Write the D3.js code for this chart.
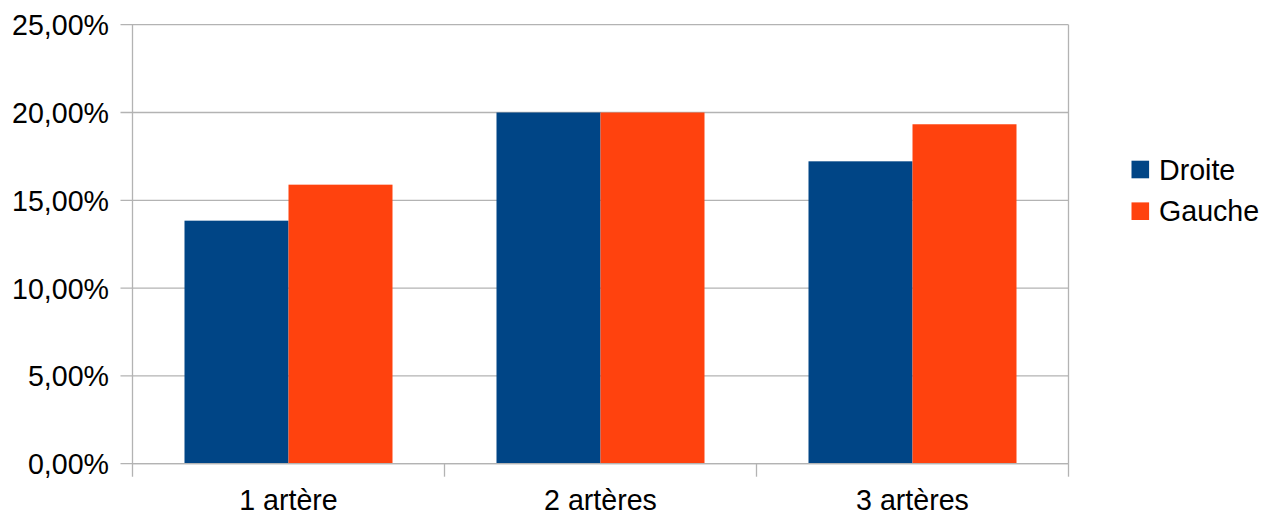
<!DOCTYPE html>
<html>
<head>
<meta charset="utf-8">
<script src="https://cdn.jsdelivr.net/npm/d3@7"></script>
<style>
  html, body { margin: 0; padding: 0; background: #fff; }
  text { font-family: "Liberation Sans", Arial, sans-serif; fill: #000; }
</style>
</head>
<body>
<svg id="chart" width="1275" height="515"></svg>
<script>
// Share of cases by number of arteries, right vs left
const categories = ["1 artère", "2 artères", "3 artères"];
const seriesNames = ["Droite", "Gauche"];
const droite = [13.84, 20.0, 17.22];
const gauche = [15.89, 20.0, 19.33];
const yTicks = [0, 5, 10, 15, 20, 25];
const colors = ["#004586", "#ff420e"];

const svg = d3.select("#chart");
const margin = { left: 132.5, right: 1068.5, top: 24.7, bottom: 463.7 };
const fontSize = 28.6;
const gridColor = "#b3b3b3";

const x = d3.scaleBand().domain(categories).range([margin.left, margin.right]);
// bars occupy the middle two thirds of each category
const inner = d3.scaleBand().domain(seriesNames)
  .range([x.bandwidth() / 6, x.bandwidth() * 5 / 6]).padding(0);
const y = d3.scaleLinear().domain([0, 25]).range([margin.bottom, margin.top]);

const fmt = v => d3.format(".2f")(v).replace(".", ",") + "%";

// horizontal gridlines (with short ticks left of the axis)
svg.append("g").selectAll("line").data(yTicks).join("line")
  .attr("x1", margin.left - 12).attr("x2", margin.right)
  .attr("y1", d => y(d)).attr("y2", d => y(d))
  .attr("stroke", gridColor).attr("stroke-width", 1.3);

// plot frame: right edge
svg.append("line")
  .attr("x1", margin.right).attr("x2", margin.right)
  .attr("y1", margin.top).attr("y2", margin.bottom)
  .attr("stroke", gridColor).attr("stroke-width", 1.3);

// y axis labels
svg.append("g").selectAll("text").data(yTicks).join("text")
  .attr("x", 109).attr("y", d => y(d) + 10.5)
  .attr("text-anchor", "end").attr("font-size", fontSize)
  .text(fmt);

// bars
const rows = categories.map((c, i) => ({ cat: c, vals: [droite[i], gauche[i]] }));
const groups = svg.append("g").selectAll("g").data(rows).join("g")
  .attr("transform", d => `translate(${x(d.cat)},0)`);
groups.selectAll("rect").data(d => d.vals.map((v, j) => ({ v, s: seriesNames[j], j })))
  .join("rect")
  .attr("x", d => inner(d.s))
  .attr("width", inner.bandwidth())
  .attr("y", d => y(d.v))
  .attr("height", d => y(0) - y(d.v))
  .attr("fill", d => colors[d.j]);

// y axis line (extends below to meet the category ticks)
svg.append("line")
  .attr("x1", margin.left).attr("x2", margin.left)
  .attr("y1", margin.top).attr("y2", margin.bottom + 13)
  .attr("stroke", gridColor).attr("stroke-width", 1.3);

// x axis line and category boundary ticks
svg.append("line")
  .attr("x1", margin.left).attr("x2", margin.right)
  .attr("y1", margin.bottom).attr("y2", margin.bottom)
  .attr("stroke", gridColor).attr("stroke-width", 1.3);
const bounds = categories.map(c => x(c)).concat([margin.right]);
svg.append("g").selectAll("line").data(bounds.slice(1)).join("line")
  .attr("x1", d => d).attr("x2", d => d)
  .attr("y1", margin.bottom).attr("y2", margin.bottom + 13)
  .attr("stroke", gridColor).attr("stroke-width", 1.3);

// category labels
svg.append("g").selectAll("text").data(categories).join("text")
  .attr("x", d => x(d) + x.bandwidth() / 2).attr("y", 510)
  .attr("text-anchor", "middle").attr("font-size", fontSize)
  .text(d => d);

// legend
const legend = svg.append("g").selectAll("g").data(seriesNames).join("g")
  .attr("transform", (d, i) => `translate(1131.5,${160.7 + i * 41.7})`);
legend.append("rect").attr("width", 17.6).attr("height", 17.6)
  .attr("fill", (d, i) => colors[i]);
legend.append("text").attr("x", 27.5).attr("y", 18.8)
  .attr("font-size", fontSize).text(d => d);
</script>
</body>
</html>
